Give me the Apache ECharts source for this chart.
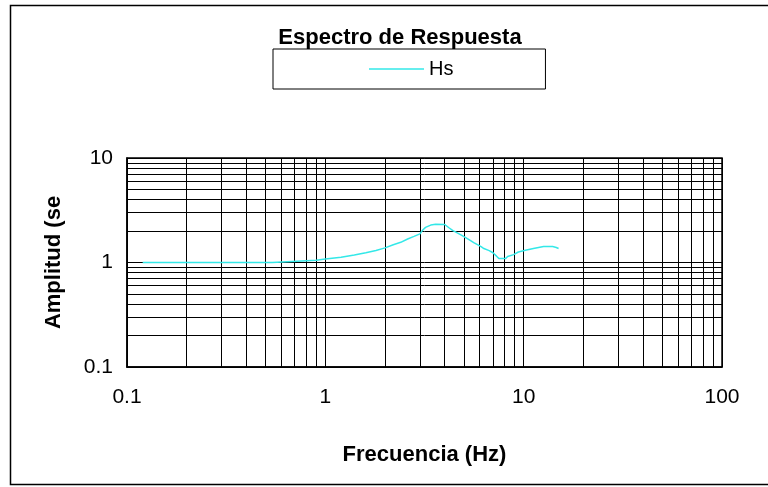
<!DOCTYPE html>
<html>
<head>
<meta charset="utf-8">
<script src="https://cdn.jsdelivr.net/npm/echarts@6/dist/echarts.min.js"></script>
<style>
  html, body { margin: 0; padding: 0; background: #fff; }
  #chart { width: 768px; height: 487px; }
</style>
</head>
<body>
<div id="chart"></div>
<script>
  // frecuencia (Hz) y amplitud
  const freq = [0.12, 0.3, 0.54, 0.55, 0.9, 1.0, 1.2, 1.4, 1.6, 1.8, 2.0, 2.2, 2.4, 2.6, 2.8,
    3.0, 3.1, 3.2, 3.4, 3.6, 4.0, 4.2, 4.4, 4.6, 4.8, 5.0, 5.2, 5.4, 5.6, 5.85, 6.1, 6.3,
    6.7, 7.0, 7.3, 7.5, 8.1, 8.3, 8.9, 9.4, 10.2, 11.2, 12.6, 14.0, 14.6, 15.0];
  const amp = [1.0, 1.0, 1.0, 1.03, 1.05, 1.08, 1.12, 1.18, 1.24, 1.30, 1.38, 1.48, 1.56, 1.68, 1.78,
    1.88, 2.05, 2.17, 2.28, 2.32, 2.31, 2.15, 2.02, 1.93, 1.85, 1.77, 1.69, 1.62, 1.55, 1.48, 1.42, 1.36,
    1.30, 1.24, 1.15, 1.09, 1.09, 1.14, 1.19, 1.26, 1.31, 1.36, 1.42, 1.42, 1.39, 1.36];

  // lineas de division menores (escala log)
  const xMinor = [0.2, 0.3, 0.4, 0.5, 0.6, 0.7, 0.8, 0.9, 2, 3, 4, 5, 6, 7, 8, 9,
    20, 30, 40, 50, 60, 70, 80, 90];
  const yMinor = [0.2, 0.3, 0.4, 0.5, 0.6, 0.7, 0.8, 0.9, 2, 3, 4, 5, 6, 7, 8, 9];

  const font = '"Liberation Sans", Arial, sans-serif';

  let myChart = echarts.init(document.getElementById('chart'));

  let gridLines = [];
  xMinor.forEach(v => gridLines.push({ xAxis: v }));
  yMinor.forEach(v => gridLines.push({ yAxis: v }));

  function fmt(v) {
    return String(Number(Number(v).toPrecision(3)));
  }

  let option = {
    animation: false,
    backgroundColor: '#fff',
    title: {
      text: 'Espectro de Respuesta',
      left: 395,
      textAlign: 'center',
      top: 22,
      textStyle: { fontFamily: font, fontSize: 22, fontWeight: 'bold', color: '#000' }
    },
    legend: {
      data: ['Hs'],
      icon: 'rect',
      left: 273,
      top: 49,
      padding: [9, 92, 9, 96],
      borderColor: '#000',
      borderWidth: 1,
      itemWidth: 55,
      itemHeight: 1.5,
      itemGap: 6,
      textStyle: { fontFamily: font, fontSize: 20, color: '#000', lineHeight: 22 }
    },
    grid: {
      left: 127,
      top: 158,
      right: 46,
      bottom: 120,
      show: true,
      borderColor: '#000',
      borderWidth: 1.5,
      backgroundColor: '#fff'
    },
    xAxis: {
      type: 'log',
      logBase: 10,
      min: 0.1,
      max: 100,
      name: 'Frecuencia (Hz)',
      nameLocation: 'middle',
      nameGap: 77,
      nameTextStyle: { fontFamily: font, fontSize: 22, fontWeight: 'bold', color: '#000' },
      axisLine: { show: true, lineStyle: { color: '#000', width: 1.5 } },
      axisTick: { show: false },
      axisLabel: {
        margin: 20,
        fontFamily: font,
        fontSize: 21,
        color: '#000',
        formatter: fmt
      },
      splitLine: { show: true, lineStyle: { color: '#000', width: 1 } }
    },
    yAxis: {
      type: 'log',
      logBase: 10,
      min: 0.1,
      max: 10,
      name: 'Amplitud (seg)',
      nameLocation: 'middle',
      nameGap: 62,
      nameTruncate: { maxWidth: 146, ellipsis: '' },
      nameTextStyle: { fontFamily: font, fontSize: 22, fontWeight: 'bold', color: '#000' },
      axisLine: { show: true, lineStyle: { color: '#000', width: 1.5 } },
      axisTick: { show: false },
      axisLabel: {
        margin: 14,
        fontFamily: font,
        fontSize: 21,
        color: '#000',
        formatter: fmt
      },
      splitLine: { show: true, lineStyle: { color: '#000', width: 1 } }
    },
    graphic: [{
      type: 'rect',
      shape: { x: 10.5, y: 5.5, width: 800, height: 479 },
      style: { fill: 'none', stroke: '#000', lineWidth: 1.5 },
      silent: true,
      z: 100
    }],
    series: [
      {
        name: 'grid',
        type: 'line',
        data: [],
        silent: true,
        markLine: {
          silent: true,
          symbol: 'none',
          z: 1,
          label: { show: false },
          lineStyle: { color: '#000', width: 1, type: 'solid' },
          data: gridLines
        }
      },
      {
        name: 'Hs',
        type: 'line',
        symbol: 'none',
        z: 5,
        lineStyle: { color: '#33e8e8', width: 1.5 },
        itemStyle: { color: '#33e8e8' },
        data: freq.map((f, i) => [f, amp[i]])
      }
    ]
  };
  myChart.setOption(option);
</script>
</body>
</html>
